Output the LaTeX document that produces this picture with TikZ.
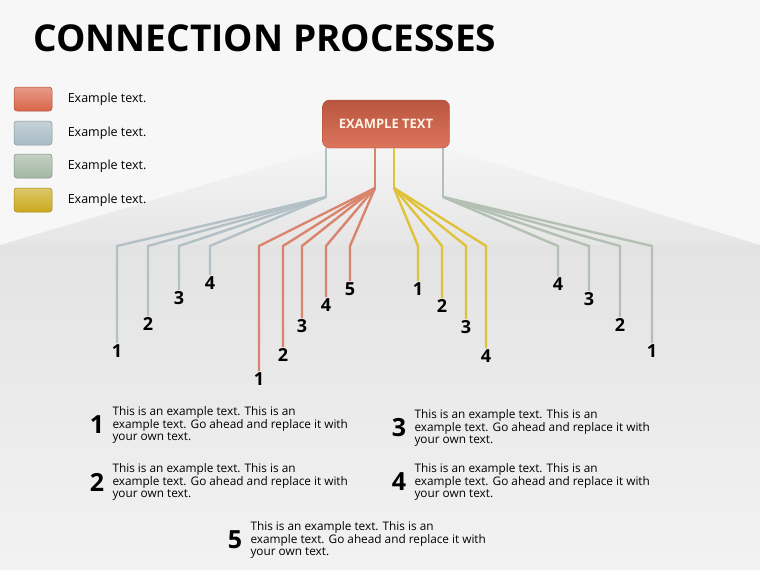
\documentclass[tikz,border=0pt]{standalone}
\usepackage{fontspec}
\setmainfont{Open Sans}
\usetikzlibrary{positioning}
\usetikzlibrary{calc}

\definecolor{boxred}{HTML}{D9654A}
\definecolor{lineblue}{HTML}{B3C1C6}
\definecolor{linered}{HTML}{D9846C}
\definecolor{lineyellow}{HTML}{E0C23A}
\definecolor{linegreen}{HTML}{B4C0B3}
\definecolor{legblue}{HTML}{A7BAC3}
\definecolor{leggreen}{HTML}{A3B7A3}
\definecolor{legyellow}{HTML}{C9AA1C}

\tikzset{
  legbox/.style={draw=#1!80!black, rounded corners=3pt, top color=#1!65!white, bottom color=#1, minimum width=38pt, minimum height=24pt, line width=0.5pt},
  legtext/.style={anchor=west, font=\fontsize{12.5}{14}\selectfont},
  num/.style={font=\fontsize{18}{18}\selectfont\bfseries, anchor=north, inner sep=1pt},
  branch/.style={line width=2.4pt, #1},
  bignum/.style={font=\fontsize{25}{25}\selectfont\bfseries, inner sep=1pt},
  note/.style={anchor=west, align=left, inner sep=1pt, font=\fontsize{11.8}{12.5}\selectfont}
}

\begin{document}
\begin{tikzpicture}[x=1pt,y=-1pt]
    \useasboundingbox (0,0) rectangle (760,570);
    % background
    \fill[gray!6] (0,0) rectangle (760,570);
    \shade[top color=gray!22, bottom color=gray!10] (0,245) rectangle (760,570);
    \shade[top color=gray!8, bottom color=gray!20] (330,148) -- (445,148) -- (760,245) -- (0,245) -- cycle;

    % title
    \node[anchor=west, font=\fontsize{37}{37}\selectfont\bfseries] (title) at (30,38) {CONNECTION PROCESSES};

    % legend
    \foreach \c/\y [count=\i] in {boxred/99, legblue/133, leggreen/166, legyellow/200} {
        \node[legbox=\c] (leg\i) at (33,\y) {};
        \node[legtext, right=12pt of leg\i] (legt\i) {Example text.};
    }

    % top box
    \node[draw=boxred!80!black, rounded corners=7pt, top color=boxred!85!black, bottom color=boxred!90!white,
          minimum width=127pt, minimum height=48pt, text=white!90!orange,
          font=\fontsize{13}{13}\selectfont\bfseries] (main) at (386,124) {EXAMPLE TEXT};

    % fan points
    \coordinate (fanB) at (326,197);
    \coordinate (fanR) at (375,188);
    \coordinate (fanY) at (394,188);
    \coordinate (fanG) at (443,197);

    \draw[branch=lineblue] (main.south -| fanB) -- (fanB);
    \draw[branch=linered] (main.south -| fanR) -- (fanR);
    \draw[branch=lineyellow] (main.south -| fanY) -- (fanY);
    \draw[branch=linegreen] (main.south -| fanG) -- (fanG);

    % branches: x / label y
    \foreach \x/\y [count=\i] in {117/343, 148/316, 179/290, 210/275} {
        \node[num] (b\i) at (\x,\y) {\i};
        \draw[branch=lineblue] (fanB) -- (\x,246) -- (b\i.north);
    }
    \foreach \x/\y [count=\i] in {259/371, 283/347, 302/318, 326/297, 350/281} {
        \node[num] (r\i) at (\x,\y) {\i};
        \draw[branch=linered] (fanR) -- (\x,246) -- (r\i.north);
    }
    \foreach \x/\y [count=\i] in {418/281, 442/298, 466/319, 486/348} {
        \node[num] (y\i) at (\x,\y) {\i};
        \draw[branch=lineyellow] (fanY) -- (\x,246) -- (y\i.north);
    }
    \foreach \x/\y [count=\i] in {652/343, 620/317, 589/291, 558/276} {
        \node[num] (g\i) at (\x,\y) {\i};
        \draw[branch=linegreen] (fanG) -- (\x,246) -- (g\i.north);
    }

    % notes
    \foreach \x/\y/\n in {97/425/1, 97/482/2, 399/428/3, 399/482/4, 235/540/5} {
        \node[bignum] (n\n) at (\x,\y) {\n};
        \node[note, right=6pt of n\n] (t\n) {This is an example text. This is an\\example text. Go ahead and replace it with\\your own text.};
    }
\end{tikzpicture}
\end{document}
